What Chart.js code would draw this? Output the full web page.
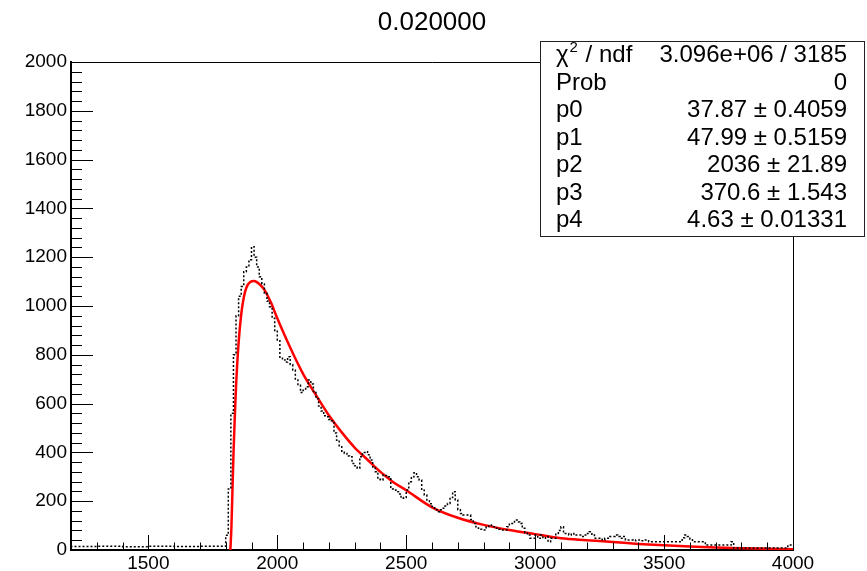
<!DOCTYPE html>
<html>
<head>
<meta charset="utf-8">
<script src="https://cdn.jsdelivr.net/npm/chart.js@4.4.1/dist/chart.umd.min.js"></script>
<style>
  body { margin: 0; background: #fff; }
  canvas { display: block; }
</style>
</head>
<body>
<canvas id="c" width="867" height="571"></canvas>
<script>
// histogram below the threshold, wide bins
const lowX = [1200, 1300, 1400, 1500, 1600, 1700]
const lowY = [16, 14, 15, 13, 15, 14]

// histogram from 1800 on, 10 wide bins
const mainStart = 1800
const mainStep = 10
const mainY = [
  15, 60, 250, 560, 800, 960, 1040, 1080, 1140, 1160,
  1190, 1243, 1200, 1160, 1120, 1090, 1052, 1020, 997, 950,
  900, 861, 790, 779, 770, 792, 760, 738, 697, 675,
  645, 655, 669, 697, 680, 650, 620, 590, 570, 550,
  546, 535, 530, 480, 450, 423, 405, 396, 385, 382,
  355, 345, 335, 382, 400, 403, 390, 369, 340, 321,
  290, 287, 307, 305, 300, 250, 246, 239, 230, 212,
  215, 246, 280, 300, 317, 300, 287, 245, 225, 205,
  190, 178, 165, 157, 165, 171, 180, 191, 215, 239,
  205, 165, 150, 143, 143, 143, 125, 109, 95, 89,
  85, 82, 95, 102, 100, 95, 89, 85, 82, 82,
  95, 109, 109, 123, 115, 109, 89, 70, 61, 48,
  48, 61, 48, 61, 48, 55, 34, 48, 48, 68,
  80, 95, 68, 68, 61, 68, 61, 61, 61, 55,
  61, 68, 75, 61, 48, 48, 48, 41, 48, 48,
  55, 55, 61, 55, 48, 55, 41, 41, 41, 38,
  41, 41, 38, 41, 41, 34, 34, 34, 34, 34,
  34, 34, 34, 34, 34, 34, 34, 34, 50, 61,
  55, 45, 34, 34, 34, 34, 34, 20, 20, 20,
  20, 20, 20, 20, 20, 20, 20, 34, 8, 8,
  8, 8, 8, 8, 8, 8, 8, 8, 8, 8,
  8, 8, 8, 8, 8, 8, 8, 8, 8, 20
]

// fitted function
const fitX = [1818, 1822, 1826, 1830, 1835, 1840, 1850, 1860, 1870, 1880, 1895, 1910, 1930, 1950, 1975,
  2000, 2050, 2100, 2150, 2200, 2250, 2300, 2350, 2400, 2450, 2500, 2600, 2700, 2800, 2900,
  3000, 3100, 3200, 3300, 3400, 3500, 3600, 3700, 3800, 3900, 4000]
const fitY = [0, 90, 240, 390, 540, 670, 850, 965, 1035, 1075, 1098, 1102, 1090, 1066, 1015,
  950, 830, 722, 635, 552, 482, 420, 370, 320, 278, 245, 175, 132, 103, 82,
  65, 48, 40, 33, 25, 19, 14, 10, 7, 5, 3]

const xTicks = [1500, 2000, 2500, 3000, 3500, 4000]
const yTicks = [0, 200, 400, 600, 800, 1000, 1200, 1400, 1600, 1800, 2000]

const titleText = '0.020000'
const statNames = ['chi2', 'Prob', 'p0', 'p1', 'p2', 'p3', 'p4']
const statValues = ['3.096e+06 / 3185', '0', '37.87 \u00b1 0.4059', '47.99 \u00b1 0.5159',
  '2036 \u00b1 21.89', '370.6 \u00b1 1.543', '4.63 \u00b1 0.01331']

const FONT = "'Liberation Sans', Arial, Helvetica, sans-serif"

let histPoints = []
for (let i = 0; i < lowX.length; i++) {
  histPoints.push({ x: lowX[i], y: lowY[i] })
}
for (let i = 0; i < mainY.length; i++) {
  histPoints.push({ x: mainStart + i * mainStep, y: mainY[i] })
}
// close the last bin at the axis end
histPoints.push({ x: 4000, y: mainY[mainY.length - 1] })

let fitPoints = []
for (let i = 0; i < fitX.length; i++) {
  fitPoints.push({ x: fitX[i], y: fitY[i] })
}

// ROOT style: ticks inside the frame, title and stat box
const rootFrame = {
  id: 'rootFrame',
  afterDatasetsDraw(chart) {
    const c = chart.ctx
    const a = chart.chartArea
    const xs = chart.scales.x
    const ys = chart.scales.y
    c.save()
    c.strokeStyle = '#000'
    c.lineWidth = 1
    // frame top and right
    c.beginPath()
    c.moveTo(a.left, a.top + 0.5)
    c.lineTo(a.right + 0.5, a.top + 0.5)
    c.lineTo(a.right + 0.5, a.bottom)
    c.stroke()
    // x ticks, major every 500, minor every 100
    c.beginPath()
    for (let v = 1300; v < 4000; v += 100) {
      let len = (v % 500 == 0) ? 15 : 7.5
      let px = Math.round(xs.getPixelForValue(v)) + 0.5
      c.moveTo(px, a.bottom)
      c.lineTo(px, a.bottom - len)
    }
    // y ticks, major every 200, minor every 40
    for (let v = 40; v <= 2000; v += 40) {
      let len = (v % 200 == 0) ? 22 : 11
      let py = Math.round(ys.getPixelForValue(v)) + 0.5
      c.moveTo(a.left, py)
      c.lineTo(a.left + len, py)
    }
    c.stroke()
    c.restore()
  },
  afterDraw(chart) {
    const c = chart.ctx
    c.save()
    c.fillStyle = '#000'
    c.font = '26px ' + FONT
    c.textAlign = 'center'
    c.textBaseline = 'alphabetic'
    c.fillText(titleText, 432, 30)

    // stat box
    const bx = 540.5, by = 41.5, bw = 324, bh = 195
    c.fillStyle = '#fff'
    c.fillRect(bx, by, bw, bh)
    c.strokeStyle = '#222'
    c.lineWidth = 1
    c.strokeRect(bx, by, bw, bh)
    c.fillStyle = '#000'
    c.font = '24px ' + FONT
    for (let i = 0; i < statNames.length; i++) {
      let base = 62 + i * 27.5
      c.textAlign = 'left'
      if (statNames[i] == 'chi2') {
        c.fillText('\u03c7', 556, base)
        let w = c.measureText('\u03c7').width
        c.font = '15px ' + FONT
        c.fillText('2', 556 + w + 1, base - 10)
        let w2 = c.measureText('2').width
        c.font = '24px ' + FONT
        c.fillText(' / ndf', 556 + w + w2 + 2, base)
      } else {
        c.fillText(statNames[i], 556, base)
      }
      c.textAlign = 'right'
      c.fillText(statValues[i], 847, base)
    }
    c.restore()
  }
}

const ctx = document.getElementById('c').getContext('2d')
const chart = new Chart(ctx, {
  type: 'scatter',
  data: {
    datasets: [
      {
        data: histPoints,
        showLine: true,
        stepped: 'after',
        borderColor: '#000',
        borderWidth: 1.5,
        borderDash: [2, 2],
        pointRadius: 0
      },
      {
        data: fitPoints,
        showLine: true,
        borderColor: '#ff0000',
        borderWidth: 2.5,
        pointRadius: 0,
        cubicInterpolationMode: 'monotone'
      }
    ]
  },
  options: {
    responsive: false,
    animation: false,
    events: [],
    layout: { padding: { top: 62, right: 74, left: 0, bottom: 0 } },
    plugins: { legend: { display: false }, tooltip: { enabled: false } },
    scales: {
      x: {
        type: 'linear',
        min: 1200,
        max: 4000,
        grid: { display: false, drawTicks: false },
        border: { color: '#000', width: 2 },
        ticks: { color: '#000', font: { family: FONT, size: 19 }, padding: 2, maxRotation: 0, autoSkip: false,
          callback: v => String(v) },
        afterBuildTicks: s => { s.ticks = xTicks.map(v => ({ value: v })) },
        afterFit: s => { s.height = 21 }
      },
      y: {
        type: 'linear',
        min: 0,
        max: 2000,
        grid: { display: false, drawTicks: false },
        border: { color: '#000', width: 2 },
        ticks: { color: '#000', font: { family: FONT, size: 19 }, padding: 4, autoSkip: false,
          callback: v => String(v) },
        afterBuildTicks: s => { s.ticks = yTicks.map(v => ({ value: v })) },
        afterFit: s => { s.width = 71 }
      }
    }
  },
  plugins: [rootFrame]
})
</script>
</body>
</html>
